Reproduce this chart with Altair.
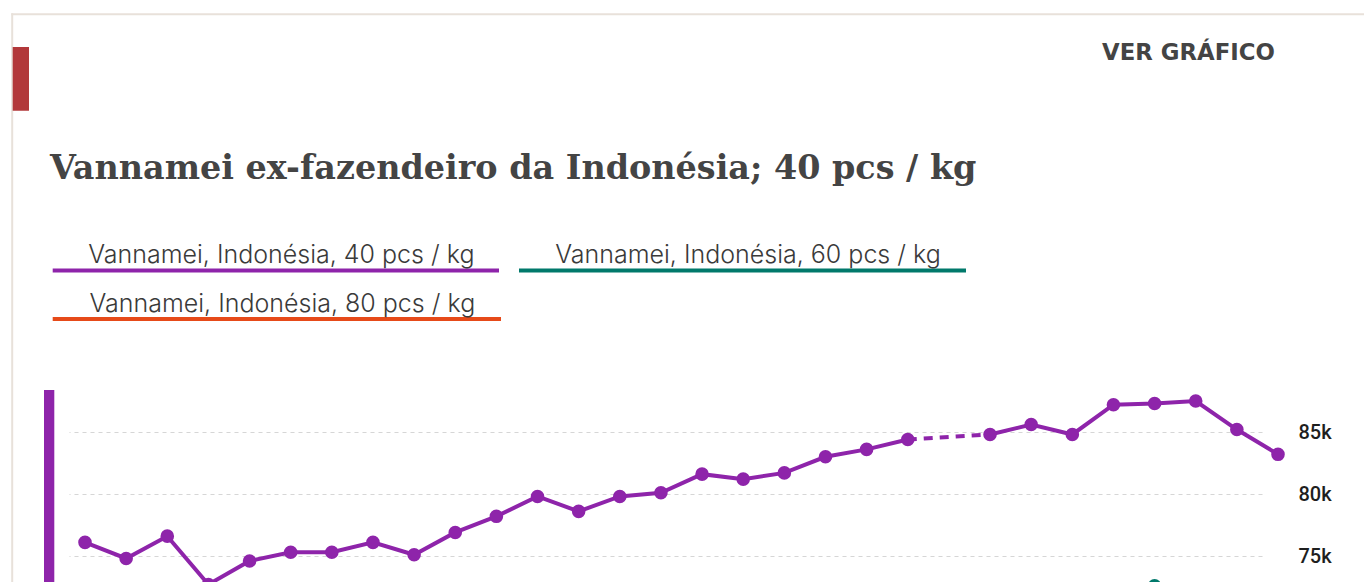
import altair as alt
import pandas as pd

# ---- data ----
semanas = list(range(30))
precio_40 = [76100, 74800, 76600, 72700, 74600, 75300, 75300, 76100, 75100, 76900,
             78200, 79800, 78600, 79800, 80100, 81600, 81200, 81700, 83000, 83600,
             84400, None, 84800, 85600, 84800, 87200, 87300, 87500, 85200, 83200]
# 60 pcs / kg: only the top of one point (week 26) shows at the bottom edge
precio_60 = [None] * 25 + [71200, 72600, 71400] + [None] * 2
series = ["Vannamei, Indonésia, 40 pcs / kg",
          "Vannamei, Indonésia, 60 pcs / kg",
          "Vannamei, Indonésia, 80 pcs / kg"]
colores = ["#8e24aa", "#00796b", "#e64a19"]
ticks_y = [75000, 80000, 85000]
titulo = "Vannamei ex-fazendeiro da Indonésia; 40 pcs / kg"
boton = "VER GRÁFICO"

# ---- tables built from the arrays ----
filas = []
for s, vals in ((series[0], precio_40), (series[1], precio_60)):
    tramo = 0
    prev_none = True
    for w, v in zip(semanas, vals):
        if v is None:
            prev_none = True
            continue
        if prev_none:
            tramo += 1
            prev_none = False
        filas.append({"semana": w, "precio": v, "serie": s, "tramo": f"{s}-{tramo}"})
df = pd.DataFrame(filas)

# dashed bridge over the missing week of the 40 pcs series
puente = []
for i, v in enumerate(precio_40):
    if v is None:
        puente.append({"semana": semanas[i - 1], "precio": precio_40[i - 1], "serie": series[0]})
        puente.append({"semana": semanas[i + 1], "precio": precio_40[i + 1], "serie": series[0]})
df_puente = pd.DataFrame(puente)
df_ticks = pd.DataFrame({"precio": ticks_y})
uno = pd.DataFrame({"k": [0]})

xs = alt.X("semana:Q", scale=alt.Scale(domain=[0, 29], range=[31, 1224], nice=False, zero=False), axis=None)
ysc = alt.Scale(domain=[75000, 85000], range=[166, 42], nice=False, zero=False)
eje_y = alt.Axis(orient="right", values=ticks_y, format="~s", grid=True,
                 gridColor="#d6d6d6", gridDash=[4, 4], gridWidth=1.2,
                 domain=False, ticks=False, labelPadding=5,
                 labelFont="Roboto", labelFontWeight=500, labelFontSize=20,
                 labelColor="#1e1e1e", title=None)
ys = alt.Y("precio:Q", scale=ysc, axis=eje_y)
cs = alt.Color("serie:N", scale=alt.Scale(domain=series, range=colores), legend=None)

grid = alt.Chart(df_ticks).mark_point(opacity=0).encode(y=ys)

lineas = alt.Chart(df).mark_line(strokeWidth=4).encode(
    x=xs, y=ys, color=cs, detail="tramo:N"
)
guiones = alt.Chart(df_puente).mark_line(strokeWidth=4, strokeDash=[9, 7], strokeCap="butt").encode(
    x=xs, y=ys, color=cs
)
puntos = alt.Chart(df).mark_circle(size=185, opacity=1).encode(
    x=xs, y=ys, color=cs
)

# ---- decoration (plot origin is at page x=54, y=390) ----
OX, OY = 54, 390
def px(v):
    return alt.value(v - OX)
def py(v):
    return alt.value(v - OY)

borde_top = alt.Chart(uno).mark_rule(color="#e8e1da", strokeWidth=2).encode(
    x=px(11.3), x2=px(1380), y=py(14.2))
borde_izq = alt.Chart(uno).mark_rule(color="#e8e1da", strokeWidth=2).encode(
    x=px(12.2), y=py(13.3), y2=py(700))
barra_roja = alt.Chart(uno).mark_rect(color="#b2383a").encode(
    x=px(12.7), x2=px(29), y=py(47), y2=py(110.7))
barra_morada = alt.Chart(uno).mark_rect(color=colores[0]).encode(
    x=px(44), x2=px(54.3), y=py(390), y2=py(700))

txt_titulo = alt.Chart(uno).mark_text(
    text=titulo, font="DejaVu Serif", fontWeight="bold", fontSize=33.4,
    color="#444444", align="left", baseline="alphabetic").encode(x=px(50), y=py(179))
txt_boton = alt.Chart(uno).mark_text(
    text=boton, font="DejaVu Sans", fontWeight="bold", fontSize=22.8,
    color="#444444", align="center", baseline="alphabetic").encode(x=px(1188.5), y=py(59.5))

leyenda = []
pos_leyenda = [(52.7, 499, 263, 268.5), (519, 966, 263, 268.5), (52.7, 501, 311.5, 317)]
for s, c, (x0, x1, yb, yu) in zip(series, colores, pos_leyenda):
    leyenda.append(alt.Chart(uno).mark_rect(color=c).encode(
        x=px(x0), x2=px(x1), y=py(yu), y2=py(yu + 4)))
    leyenda.append(alt.Chart(uno).mark_text(
        text=s, font="Inter", fontWeight=300, fontSize=25, color="#3a3a3a",
        align="center", baseline="alphabetic").encode(x=px((x0 + x1) / 2 + 5.5), y=py(yb)))

chart = alt.layer(
    borde_top, borde_izq, barra_roja, txt_titulo, txt_boton, *leyenda,
    grid, barra_morada, lineas, guiones, puntos
).properties(
    width=1239, height=230,
    autosize=alt.AutoSizeParams(type="none"),
    padding={"left": 46, "top": 382, "right": 71, "bottom": 0},
    background="white",
).configure_view(stroke=None)

chart.save("out.html", embed_options={"renderer": "svg", "actions": False})
